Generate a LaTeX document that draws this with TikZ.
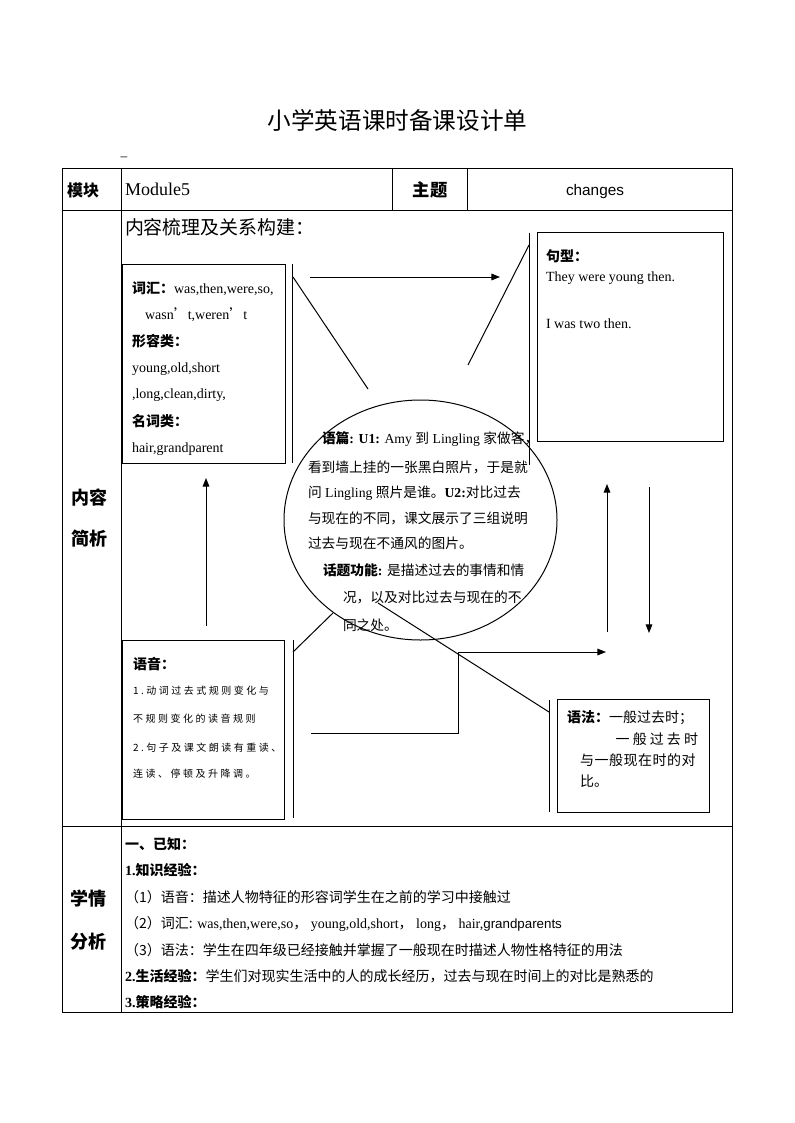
\documentclass[tikz,border=0pt]{standalone}
\usepackage{fontspec}
\setmainfont{Liberation Serif}
\newfontfamily\cjk{Noto Sans CJK SC}
\newfontfamily\cjksp[LetterSpace=25]{Noto Sans CJK SC}
\newfontfamily\sansf{Liberation Sans}
\usetikzlibrary{arrows.meta,shapes.geometric}
\newcommand\fsz[1]{\fontsize{#1}{#1}\selectfont}
\begin{document}
\begin{tikzpicture}[x=0.75pt,y=-0.75pt,
  every node/.style={inner sep=0pt, outer sep=0pt},
  ln/.style={line width=0.75pt},
  arr/.style={line width=0.75pt,-{Triangle[length=6.5pt,width=5pt]}},
  boxst/.style={draw, line width=0.75pt, rectangle, inner sep=0pt, anchor=north west},
  txt/.style={anchor=base west, font=\fsz{10.5pt}},
  head/.style={font=\cjk\bfseries\fsz{13.5pt}}]
\useasboundingbox (0,0) rectangle (794,1123);
\fill[white] (0,0) rectangle (794,1123);

% title
\node[font=\cjk\fsz{17.7pt}] (title) at (397.5,120) {小学英语课时备课设计单};
\node[font=\fsz{10pt}] (dash) at (124,159) {–};

% table
\draw[ln] (62,169) rectangle (732,1012);
\draw[ln] (62,211) -- (732,211);
\draw[ln] (62,826) -- (732,826);
\draw[ln] (121,169) -- (121,1012);
\draw[ln] (392,169) -- (392,211);
\draw[ln] (467,169) -- (467,211);

% row 1
\node[font=\cjk\bfseries\fsz{12pt}] (mk) at (83,190) {模块};
\node[txt, font=\fsz{13.5pt}] (mod) at (125,196) {Module5};
\node[font=\cjk\bfseries\fsz{13pt}] (zt) at (430,190) {主题};
\node[font=\sansf\fsz{11.5pt}] (chg) at (595,192) {changes};

% row 2 heading
\node[head] (nr1) at (89,498) {内容};
\node[head] (nr2) at (89,539) {简析};
\node[txt, font=\cjk\fsz{14.2pt}] (nrt) at (125,234) {内容梳理及关系构建：};

% vocabulary box
\node[boxst, minimum width=163*0.75pt, minimum height=199*0.75pt] (vocab) at (122,264) {};
\node[txt] (v1) at (132,293) {{\cjk\bfseries 词汇：}was,then,were,so,};
\node[txt] (v2) at (145,319) {wasn{\cjk ’}t,weren{\cjk ’}t};
\node[txt] (v3) at (132,346) {{\cjk\bfseries 形容类：}};
\node[txt] (v4) at (132,372) {young,old,short};
\node[txt] (v5) at (132,398) {,long,clean,dirty,};
\node[txt] (v6) at (132,426) {{\cjk\bfseries 名词类：}};
\node[txt] (v7) at (132,452) {hair,grandparent};

% sentence box
\node[boxst, minimum width=186*0.75pt, minimum height=208*0.75pt] (sent) at (537,233) {};
\node[txt] (s1) at (546,262) {{\cjk\bfseries 句型：}};
\node[txt, font=\fsz{10.5pt}] (s2) at (546,281.5) {They were young then.};
\node[txt, font=\fsz{10.5pt}] (s3) at (546,328.5) {I was two then.};

% phonetics box
\node[boxst, minimum width=162*0.75pt, minimum height=179*0.75pt] (phon) at (122,640) {};
\node[txt] (p0) at (133,669) {{\cjk\bfseries 语音：}};
\node[txt, font=\cjksp\fsz{7.5pt}] (p1) at (133,694) {1.动词过去式规则变化与};
\node[txt, font=\cjksp\fsz{7.5pt}] (p2) at (133,722) {不规则变化的读音规则};
\node[txt, font=\cjksp\fsz{7.5pt}] (p3) at (133,751) {2.句子及课文朗读有重读、};
\node[txt, font=\cjksp\fsz{7.5pt}] (p4) at (133,777) {连读、停顿及升降调。};

% grammar box
\node[boxst, minimum width=152*0.75pt, minimum height=113*0.75pt] (gram) at (557,699) {};
\node[txt] (g1) at (567,722) {{\cjk\bfseries 语法：}{\cjk 一般过去时；}};
\node[anchor=base east, font=\cjk\fsz{10.5pt}] (g2) at (698,744) {一\hspace{2.3pt}般\hspace{2.3pt}过\hspace{2.3pt}去\hspace{2.3pt}时};
\node[txt, font=\cjk\fsz{10.5pt}] (g3) at (580,765) {与\hspace{0.4pt}一\hspace{0.4pt}般\hspace{0.4pt}现\hspace{0.4pt}在\hspace{0.4pt}时\hspace{0.4pt}的\hspace{0.4pt}对};
\node[txt, font=\cjk\fsz{10.5pt}] (g4) at (580,786) {比。};

% central ellipse
\node[draw, ellipse, line width=0.75pt, minimum width=273*0.75pt, minimum height=240*0.75pt] (circ) at (420.5,520) {};
\node[txt, font=\fsz{10.3pt}] (c1) at (322,443) {{\cjk\bfseries 语篇}\textbf{: U1:} Amy {\cjk 到} Lingling {\cjk 家做客，}};
\node[txt, font=\cjk\fsz{10.3pt}] (c2) at (308,472) {看到墙上挂的一张黑白照片，于是就};
\node[txt, font=\fsz{10.3pt}] (c3) at (308,497) {{\cjk 问} Lingling {\cjk 照片是谁。}\textbf{U2:}{\cjk 对比过去}};
\node[txt, font=\cjk\fsz{10.3pt}] (c4) at (308,523) {与现在的不同，课文展示了三组说明};
\node[txt, font=\cjk\fsz{10.3pt}] (c5) at (308,548) {过去与现在不通风的图片。};
\node[txt, font=\fsz{10.3pt}] (c6) at (323,575) {{\cjk\bfseries 话题功能}\textbf{:} {\cjk 是描述过去的事情和情}};
\node[txt, font=\cjk\fsz{10.3pt}] (c7) at (343,602) {况，以及对比过去与现在的不};
\node[txt, font=\cjk\fsz{10.3pt}] (c8) at (343,630) {同之处。};

% connectors
\coordinate (vl1) at (292,264); \coordinate (vl2) at (292,463);
\draw[ln] (vl1) -- (vl2);
\coordinate (d1a) at (293,277); \coordinate (d1b) at (368,389);
\draw[ln] (d1a) -- (d1b);
\coordinate (h1a) at (310,277); \coordinate (h1b) at (500,277);
\draw[arr] (h1a) -- (h1b);
\coordinate (d2a) at (468,365); \coordinate (d2b) at (529,245);
\draw[ln] (d2a) -- (d2b);
\coordinate (vr1) at (529,233); \coordinate (vr2) at (529,465);
\draw[ln] (vr1) -- (vr2);

\coordinate (up1a) at (206,626); \coordinate (up1b) at (206,478);
\draw[arr] (up1a) -- (up1b);
\coordinate (vp1) at (293,640); \coordinate (vp2) at (293,818);
\draw[ln] (vp1) -- (vp2);
\coordinate (d3a) at (293,652); \coordinate (d3b) at (333,613);
\draw[ln] (d3a) -- (d3b);
\coordinate (d4a) at (378,603); \coordinate (d4b) at (549,712);
\draw[ln] (d4a) -- (d4b);

\coordinate (st1) at (311,733); \coordinate (st2) at (458,733);
\coordinate (st3) at (458,652); \coordinate (st4) at (606,652);
\draw[arr] (st1) -- (st2) -- (st3) -- (st4);

\coordinate (up2a) at (607,632); \coordinate (up2b) at (607,484);
\draw[arr] (up2a) -- (up2b);
\coordinate (dn2a) at (649,487); \coordinate (dn2b) at (649,633);
\draw[arr] (dn2a) -- (dn2b);
\coordinate (vg1) at (549,700); \coordinate (vg2) at (549,812);
\draw[ln] (vg1) -- (vg2);

% row 3
\node[head] (xq1) at (88,899) {学情};
\node[head] (xq2) at (88,942) {分析};
\node[txt] (b1) at (125,849) {{\cjk\bfseries 一、已知：}};
\node[txt] (b2) at (125,875) {\textbf{1.}{\cjk\bfseries 知识经验：}};
\node[txt, font=\cjk\fsz{10.5pt}] (b3) at (125,902) {（1）语音：描述人物特征的形容词学生在之前的学习中接触过};
\node[txt] (b4) at (125,928) {{\cjk （2）词汇:} was,then,were,so{\cjk ，} young,old,short{\cjk ，} long{\cjk ，} hair,{\sansf\fsz{10pt}grandparents}};
\node[txt, font=\cjk\fsz{10.5pt}] (b5) at (125,955) {（3）语法：学生在四年级已经接触并掌握了一般现在时描述人物性格特征的用法};
\node[txt] (b6) at (125,981) {\textbf{2.}{\cjk\bfseries 生活经验：}{\cjk 学生们对现实生活中的人的成长经历，过去与现在时间上的对比是熟悉的}};
\node[txt] (b7) at (125,1007) {\textbf{3.}{\cjk\bfseries 策略经验：}};
\end{tikzpicture}
\end{document}
